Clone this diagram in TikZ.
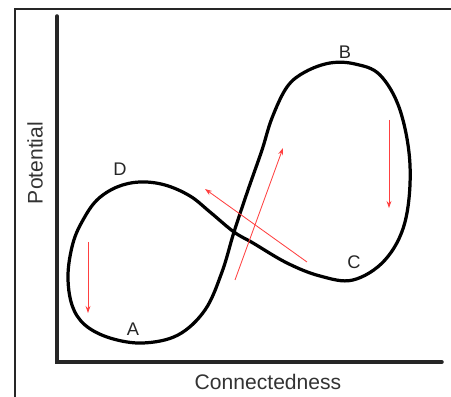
\documentclass[tikz,border=0pt]{standalone}
\usepackage{fontspec}
\setmainfont{Liberation Sans}
\usetikzlibrary{arrows.meta,positioning,calc}

\begin{document}
\begin{tikzpicture}[>=Stealth,
    frame/.style={line width=1.4pt, black!85},
    axis/.style={line width=2.5pt, black!85, line cap=round},
    loop/.style={line width=2.3pt, black},
    flow/.style={line width=0.6pt, red!75, -{Stealth[length=5pt, width=3.5pt]}},
    axlbl/.style={font=\fontsize{15}{18}\selectfont, text=black!80},
    ptlbl/.style={font=\fontsize{13}{16}\selectfont, text=black!85}]
  \useasboundingbox (-1.425,-0.875) rectangle (9.85,9.05);
  % ---------------- frame ----------------
  \draw[frame] (-1.05,-1.0) -- (-1.05,8.825) -- (10.0,8.825);
  % ---------------- axes ----------------
  \coordinate (O) at (0,0);
  \coordinate (ytop) at (0,8.65);
  \coordinate (xend) at (9.625,0);
  \draw[axis] (ytop) -- (O) -- (xend);
  \node[axlbl, rotate=90] (ylbl) at (-0.55,4.975) {Potential};
  \node[axlbl] (xlbl) at (5.275,-0.5) {Connectedness};
  % ---------------- figure-eight cycle ----------------
  \draw[loop] plot[smooth cycle, tension=0.6] coordinates {
     (2.075,4.5) (1.5,4.375) (1.0,4.05) (0.65,3.55) (0.4,2.975)
     (0.275,2.175) (0.375,1.425) (0.7,0.925) (1.325,0.6) (2.15,0.475)
     (3.025,0.675) (3.7,1.3) (4.125,2.25) (4.425,3.25) (4.775,4.3)
     (5.125,5.3) (5.375,6.1) (5.75,6.875) (6.2,7.25) (6.825,7.475)
     (7.45,7.45) (8.075,7.175) (8.575,6.3) (8.825,4.925) (8.7,3.5)
     (8.2,2.55) (7.4,2.05) (6.575,2.15) (5.75,2.475) (4.9,2.975)
     (4.425,3.25) (3.825,3.75) (3.325,4.15) (2.7,4.425)};
  \node[ptlbl] (A) at (1.9,0.825) {A};
  \node[ptlbl] (B) at (7.2,7.75) {B};
  \node[ptlbl] (C) at (7.425,2.5) {C};
  \node[ptlbl] (D) at (1.575,4.825) {D};
  % ---------------- red flow arrows ----------------
  \coordinate (a1) at (0.775,3.0);   \coordinate (a2) at (0.775,1.225);
  \coordinate (b1) at (8.3,6.05);    \coordinate (b2) at (8.3,3.85);
  \coordinate (u1) at (4.45,2.05);   \coordinate (u2) at (5.65,5.35);
  \coordinate (l1) at (6.25,2.5);    \coordinate (l2) at (3.7,4.325);
  \foreach \s/\e in {a1/a2, b1/b2, u1/u2, l1/l2} {
     \draw[flow] (\s) -- (\e);
  }
\end{tikzpicture}
\end{document}
